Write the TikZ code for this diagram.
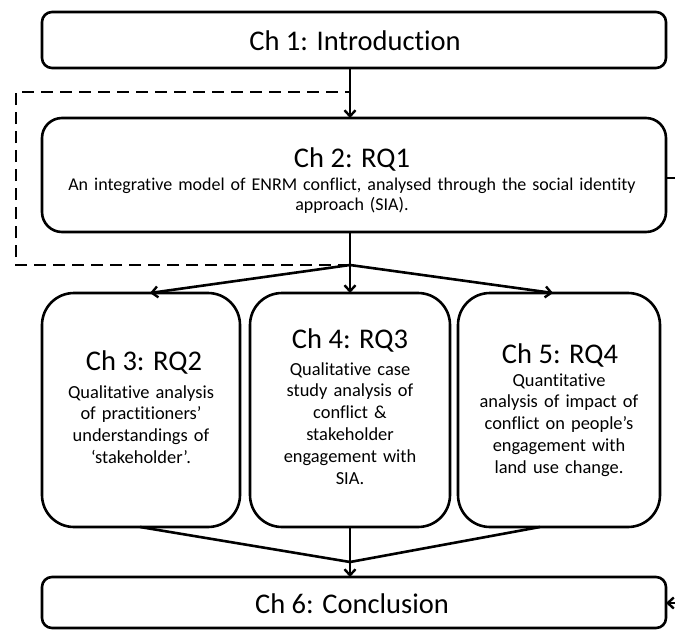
\documentclass[tikz,border=0pt]{standalone}
\usepackage{fontspec}
\setmainfont{Carlito}[Ligatures={NoCommon}]
\usetikzlibrary{arrows.meta}
\begin{document}
\begin{tikzpicture}[x=1pt,y=-1pt,
  box/.style={draw,line width=2.6pt,rounded corners=#1},
  box/.default=10pt,
  link/.style={line width=2.6pt},
  arr/.style={line width=2.6pt,-{Straight Barb[length=6pt,width=11pt,line width=2.4pt]}},
  loop/.style={line width=2.6pt,dash pattern=on 12pt off 7pt},
  ttl/.style={font=\fontsize{28.5}{32}\selectfont,inner sep=0pt,anchor=base},
  body/.style={font=\fontsize{18.4}{21.8}\selectfont,align=center,inner sep=0pt,anchor=base,text width=#1},
  body/.default=190pt]
\useasboundingbox (0,0) rectangle (675,630);

% chapter boxes
\draw[box=10pt] (42,12) rectangle (666,68);
\coordinate (c1s) at (350,68);
\draw[box=20pt] (42,118) rectangle (666,232);
\coordinate (c2n) at (350,118);
\coordinate (c2s) at (350,232);
\coordinate (c2e) at (666,178);
\draw[box=32pt] (42,293) rectangle (240,527);
\draw[box=32pt] (250,293) rectangle (450,527);
\draw[box=32pt] (458,293) rectangle (660,527);
\draw[box=10pt] (42,577) rectangle (666,628);

% texts
\node[ttl] (t1) at (355,50) {Ch 1: Introduction};
\node[ttl] (t2) at (352,167) {Ch 2: RQ1};
\node[body=620pt,font=\fontsize{18}{20.5}\selectfont] (b2) at (352,190) {An integrative model of ENRM conflict, analysed through the social identity\\approach (SIA).};
\node[ttl] (t3) at (144,370) {Ch 3: RQ2};
\node[body] (b3) at (141,398) {Qualitative analysis\\of practitioners’\\understandings of\\‘stakeholder’.};
\node[ttl] (t4) at (350,348) {Ch 4: RQ3};
\node[body] (b4) at (350,375) {Qualitative case\\study analysis of\\conflict \&\\stakeholder\\engagement with\\SIA.};
\node[ttl] (t5) at (560,363) {Ch 5: RQ4};
\node[body] (b5) at (559,386) {Quantitative\\analysis of impact of\\conflict on people’s\\engagement with\\land use change.};
\node[ttl] (t6) at (352,613) {Ch 6: Conclusion};

% junction points
\coordinate (loopin) at (350,92);
\coordinate (fork) at (350,265);
\coordinate (join) at (350,562);
\coordinate (c3n) at (150,293);
\coordinate (c4n) at (350,293);
\coordinate (c5n) at (553,293);
\coordinate (c3s) at (140,527);
\coordinate (c4s) at (350,527);
\coordinate (c5s) at (540,527);
\coordinate (c6n) at (350,577);
\coordinate (c6e) at (666,603);
\coordinate (edgeA) at (676,178);
\coordinate (edgeB) at (676,603);

% connectors
\draw[arr] (c1s) -- (c2n);
\draw[loop] (fork) -- (16,265) -- (16,92) -- (loopin);
\draw[link] (c2s) -- (fork);
\draw[arr] (fork) -- (c3n);
\draw[arr] (fork) -- (c4n);
\draw[arr] (fork) -- (c5n);
\draw[link] (c3s) -- (join);
\draw[link] (c5s) -- (join);
\draw[arr] (c4s) -- (c6n);
\draw[link] (c2e) -- (edgeA);
\draw[arr] (edgeB) -- (c6e);
\end{tikzpicture}
\end{document}
